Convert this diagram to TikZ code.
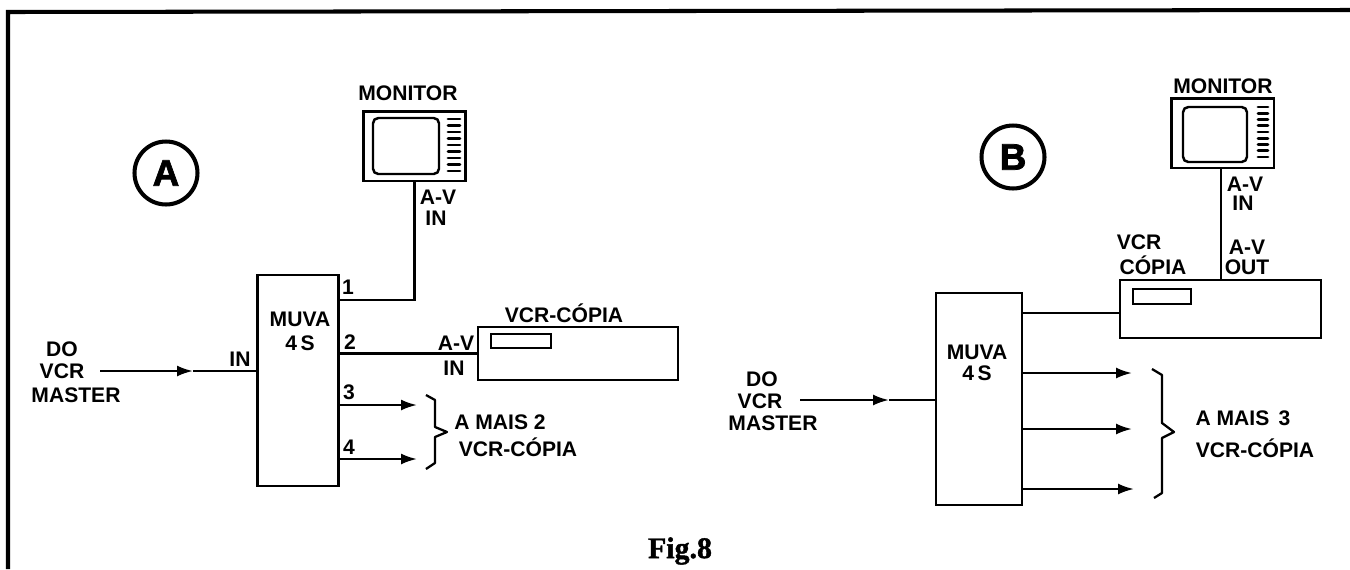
\documentclass[tikz,border=0pt]{standalone}
\usepackage{fontspec}
\setmainfont{Liberation Sans}
\newfontfamily\figfont[FakeBold=1.5]{Liberation Serif Bold}
\newfontfamily\tagfont[FakeBold=2]{Liberation Sans Bold}
\usepackage{xcolor}
\usetikzlibrary{arrows.meta, positioning, calc}

\tikzset{
  lbl/.style={font=\fontsize{12}{12}\selectfont\bfseries, inner sep=0pt},
  tag/.style={circle, draw, line width=2.3pt, minimum size=1.26cm, inner sep=0pt, font=\tagfont\fontsize{21}{21}\selectfont},
  unit/.style={draw, line width=1.4pt, inner sep=0pt},
  wire/.style={line width=1.3pt},
  feed/.style={wire, -{Latex[length=3.2mm, width=2.2mm]}},
  brace/.style={line width=1.3pt, line join=round},
}

\begin{document}
\begin{tikzpicture}[x=0.02cm, y=-0.02cm]
\useasboundingbox (0,0) rectangle (1350,569);
% Frame
\draw[line width=2.3pt] (8,569) -- (8,12) -- (1350,10);
% Panel tags
\node[tag] (taga) at (166,173) {A};
\node[tag] (tagb) at (1013,157) {B};

% Panel A: monitor
\node[lbl] (monlabela) at (408,93) {MONITOR};
\node[unit, line width=1.7pt, minimum width=2.06cm, minimum height=1.40cm] (mona) at (414.5,146) {};
\node[unit, rounded corners=3pt, minimum width=1.32cm, minimum height=1.12cm] (screena) at (406,146) {};
\foreach \i in {0,...,8}
  \draw[line width=1.6pt, line cap=round] (448,119+6.5*\i) -- (460,119+6.5*\i);
\node[lbl] (avina) at (438,197) {A-V};
\node[lbl] (inmona) at (436,218) {IN};

% Panel A: distributor
\node[unit, minimum width=1.62cm, minimum height=4.22cm] (muvaa) at (298,380.5) {};
\node[lbl] (muvalabela) at (300,319) {MUVA};
\node[lbl] (foursa) at (300,343) {4\,S};
\node[lbl] (onea) at (348,287) {1};
\node[lbl] (twoa) at (350,342) {2};
\node[lbl] (threea) at (349,392) {3};
\node[lbl] (foura) at (349,447) {4};
\node[lbl] (ina) at (240,359) {IN};

% Panel A: source
\node[lbl] (doa) at (62,349) {DO};
\node[lbl] (vcrsrca) at (62,371) {VCR};
\node[lbl] (mastera) at (76,395) {MASTER};
\coordinate (starta) at (100,371);
\coordinate (heada) at (193,371);

% Panel A: copy recorder
\node[unit, minimum width=4.00cm, minimum height=1.06cm] (vcra) at (578,353.5) {};
\node[unit, line width=1.6pt, minimum width=1.20cm, minimum height=0.28cm] (slota) at (521,341) {};
\node[lbl] (vcrlabela) at (564,313) {VCR-CÓPIA};
\node[lbl] (avcopya) at (456,343) {A-V};
\node[lbl] (incopya) at (454,368) {IN};

% Panel A: connectors
\coordinate (porta1) at (muvaa.east |- 0,300);
\coordinate (cornera) at (mona.south |- 0,300);
\coordinate (tipa3) at (417,405);
\coordinate (tipa4) at (417,459);
\draw[wire] (mona.south) -- (cornera) -- (porta1);
\draw[wire] (muvaa.east |- vcra.west) -- (vcra.west);
\draw[feed] (muvaa.east |- tipa3) -- (tipa3);
\draw[feed] (muvaa.east |- tipa4) -- (tipa4);
\draw[feed] (starta) -- (heada);
\draw[wire] (heada) -- (muvaa.west |- heada);

% Panel A: brace
\draw[brace] (426,395) -- (435,400) -- (435,427) -- (447,432) -- (435,437) -- (435,463) -- (426,469);
\node[lbl] (moreaa) at (500,422) {A MAIS 2};
\node[lbl] (moreab) at (518,447) {VCR-CÓPIA};

% Panel B: monitor
\node[lbl] (monlabelb) at (1223,86) {MONITOR};
\node[unit, line width=1.7pt, minimum width=2.06cm, minimum height=1.40cm] (monb) at (1222.5,133) {};
\node[unit, rounded corners=3pt, minimum width=1.28cm, minimum height=1.10cm] (screenb) at (1215,134.5) {};
\foreach \i in {0,...,8}
  \draw[line width=1.6pt, line cap=round] (1258,107+6.25*\i) -- (1268,107+6.25*\i);
\node[lbl] (avinb) at (1245,184) {A-V};
\node[lbl] (inmonb) at (1243,203) {IN};

% Panel B: copy recorder
\node[unit, minimum width=4.02cm, minimum height=1.16cm] (vcrb) at (1220.5,309) {};
\node[unit, line width=1.6pt, minimum width=1.16cm, minimum height=0.30cm] (slotb) at (1162,296.5) {};
\node[lbl] (vcrlabelb) at (1139,242) {VCR};
\node[lbl] (copiab) at (1153,265) {CÓPIA};
\node[lbl] (avoutb) at (1247,247) {A-V};
\node[lbl] (outb) at (1247,267) {OUT};

% Panel B: distributor
\node[unit, minimum width=1.72cm, minimum height=4.24cm] (muvab) at (979,399) {};
\node[lbl] (muvalabelb) at (977,352) {MUVA};
\node[lbl] (foursb) at (977,373) {4\,S};

% Panel B: source
\node[lbl] (dob) at (762,379) {DO};
\node[lbl] (vcrsrcb) at (760,401) {VCR};
\node[lbl] (masterb) at (773,423) {MASTER};
\coordinate (startb) at (800,400);
\coordinate (headb) at (889,400);

% Panel B: connectors
\coordinate (tipb1) at (1132,373);
\coordinate (tipb2) at (1132,429);
\coordinate (tipb3) at (1134,489);
\draw[wire] (monb.south -| 1221,0) -- (vcrb.north -| 1221,0);
\draw[wire] (muvab.east |- 0,313) -- (vcrb.west |- 0,313);
\draw[feed] (muvab.east |- tipb1) -- (tipb1);
\draw[feed] (muvab.east |- tipb2) -- (tipb2);
\draw[feed] (muvab.east |- tipb3) -- (tipb3);
\draw[feed] (startb) -- (headb);
\draw[wire] (headb) -- (muvab.west |- headb);

% Panel B: brace
\draw[brace] (1152,369) -- (1162,375) -- (1162,423) -- (1174,432) -- (1162,438) -- (1162,493) -- (1154,498);
\node[lbl] (morebb) at (1243,418) {A MAIS \,3};
\node[lbl] (morebc) at (1255,448) {VCR-CÓPIA};

% Caption
\node[font=\figfont\fontsize{17}{17}\selectfont, inner sep=0pt] (caption) at (680,551) {Fig.8};
\end{tikzpicture}
\end{document}
